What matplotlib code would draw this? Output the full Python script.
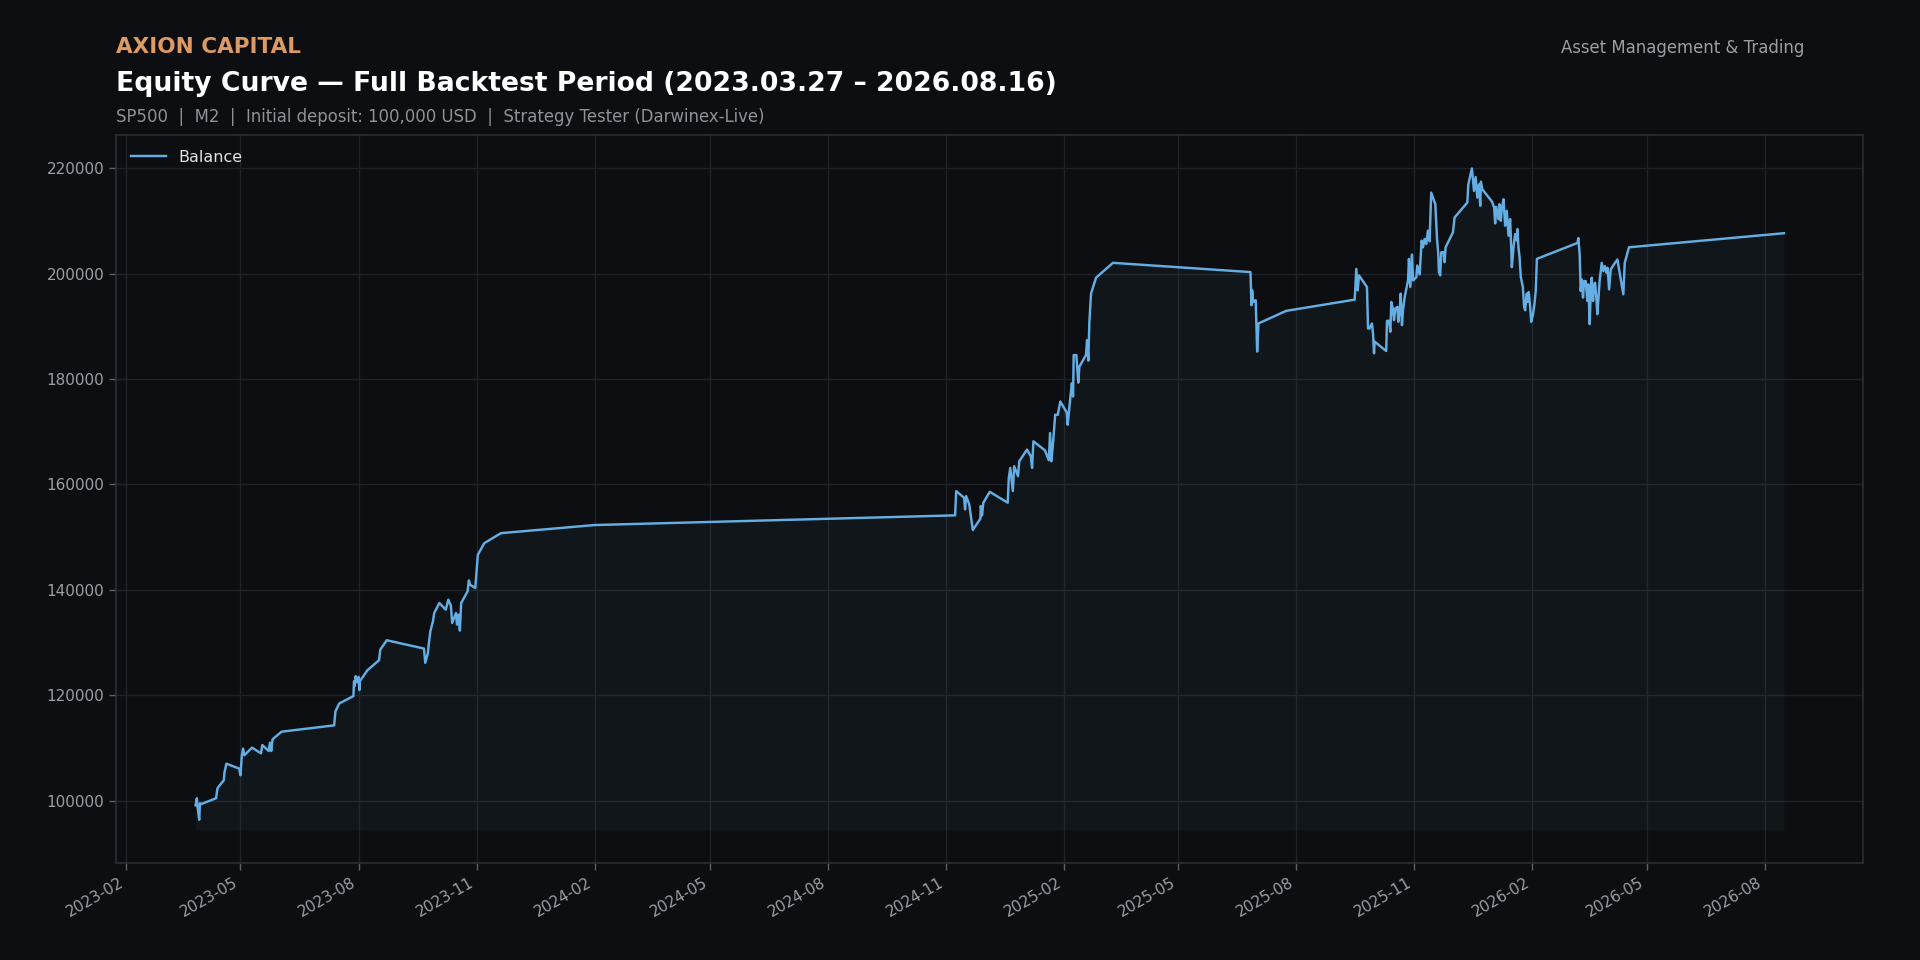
import matplotlib
matplotlib.use("Agg")
import matplotlib.pyplot as plt
import matplotlib.dates as mdates
import pandas as pd

# ---------------- data ----------------
dates = [
    "2023-03-27 00:00", "2023-03-28 00:00", "2023-03-28 12:00", "2023-03-29 06:00", "2023-03-29 20:00",
    "2023-03-30 10:00", "2023-03-31 00:00", "2023-04-12 00:00", "2023-04-13 00:00", "2023-04-14 00:00",
    "2023-04-18 00:00", "2023-04-18 12:00", "2023-04-20 00:00", "2023-04-30 00:00", "2023-05-01 00:00",
    "2023-05-02 00:00", "2023-05-03 00:00", "2023-05-04 00:00", "2023-05-10 00:00", "2023-05-17 00:00",
    "2023-05-18 00:00", "2023-05-23 00:00", "2023-05-24 00:00", "2023-05-25 00:00", "2023-05-26 00:00",
    "2023-06-02 00:00", "2023-07-13 00:00", "2023-07-14 00:00", "2023-07-17 00:00", "2023-07-28 00:00",
    "2023-07-28 12:00", "2023-07-29 00:00", "2023-07-29 18:00", "2023-07-31 00:00", "2023-08-01 00:00",
    "2023-08-01 16:00", "2023-08-02 00:00", "2023-08-08 00:00", "2023-08-17 00:00", "2023-08-18 00:00",
    "2023-08-23 00:00", "2023-09-21 00:00", "2023-09-22 00:00", "2023-09-24 00:00", "2023-09-25 00:00",
    "2023-09-26 00:00", "2023-09-28 00:00", "2023-09-29 00:00", "2023-10-03 00:00", "2023-10-08 00:00",
    "2023-10-10 00:00", "2023-10-12 00:00", "2023-10-13 00:00", "2023-10-16 00:00", "2023-10-16 18:00",
    "2023-10-18 00:00", "2023-10-19 00:00", "2023-10-20 00:00", "2023-10-25 00:00", "2023-10-26 00:00",
    "2023-10-27 00:00", "2023-10-31 00:00", "2023-11-02 00:00", "2023-11-07 00:00", "2023-11-20 00:00",
    "2024-02-01 00:00", "2024-11-08 00:00", "2024-11-08 20:00", "2024-11-15 00:00", "2024-11-15 18:00",
    "2024-11-16 14:00", "2024-11-19 00:00", "2024-11-21 19:00", "2024-11-27 17:00", "2024-11-28 00:00",
    "2024-11-29 00:00", "2024-11-30 00:00", "2024-12-05 00:00", "2024-12-19 00:00", "2024-12-19 20:00",
    "2024-12-21 00:00", "2024-12-23 00:00", "2024-12-24 00:00", "2024-12-27 00:00", "2024-12-28 00:00",
    "2025-01-03 00:00", "2025-01-06 00:00", "2025-01-07 00:00", "2025-01-08 00:00", "2025-01-17 00:00",
    "2025-01-20 00:00", "2025-01-21 00:00", "2025-01-22 00:00", "2025-01-23 00:00", "2025-01-25 00:00",
    "2025-01-27 00:00", "2025-01-29 00:00", "2025-02-03 00:00", "2025-02-03 18:00", "2025-02-06 00:00",
    "2025-02-07 00:00", "2025-02-07 22:00", "2025-02-08 10:00", "2025-02-10 12:00", "2025-02-12 00:00",
    "2025-02-12 20:00", "2025-02-18 00:00", "2025-02-18 20:00", "2025-02-19 20:00", "2025-02-20 14:00",
    "2025-02-21 22:00", "2025-02-25 20:00", "2025-03-11 00:00", "2025-06-26 05:00", "2025-06-27 00:00",
    "2025-06-27 12:00", "2025-06-28 07:00", "2025-06-30 07:00", "2025-07-01 10:00", "2025-07-02 10:00",
    "2025-07-24 00:00", "2025-09-15 10:00", "2025-09-16 17:00", "2025-09-17 19:00", "2025-09-18 19:00",
    "2025-09-25 00:00", "2025-09-25 20:00", "2025-09-27 00:00", "2025-09-28 22:00", "2025-09-29 17:00",
    "2025-09-30 12:00", "2025-10-01 00:00", "2025-10-10 00:00", "2025-10-10 14:00", "2025-10-12 05:00",
    "2025-10-13 05:00", "2025-10-14 00:00", "2025-10-15 07:00", "2025-10-16 02:00", "2025-10-17 02:00",
    "2025-10-18 17:00", "2025-10-19 10:00", "2025-10-20 12:00", "2025-10-21 07:00", "2025-10-22 07:00",
    "2025-10-23 02:00", "2025-10-24 10:00", "2025-10-27 00:00", "2025-10-27 17:00", "2025-10-28 19:00",
    "2025-10-30 02:00", "2025-10-30 22:00", "2025-11-02 12:00", "2025-11-03 05:00", "2025-11-05 02:00",
    "2025-11-06 14:00", "2025-11-07 17:00", "2025-11-08 22:00", "2025-11-10 05:00", "2025-11-11 12:00",
    "2025-11-12 19:00", "2025-11-14 02:00", "2025-11-17 07:00", "2025-11-18 14:00", "2025-11-19 14:00",
    "2025-11-20 02:00", "2025-11-21 02:00", "2025-11-21 22:00", "2025-11-23 17:00", "2025-11-24 12:00",
    "2025-11-25 07:00", "2025-12-01 00:00", "2025-12-02 07:00", "2025-12-12 05:00", "2025-12-13 00:00",
    "2025-12-15 19:00", "2025-12-17 10:00", "2025-12-18 17:00", "2025-12-20 00:00", "2025-12-21 07:00",
    "2025-12-22 07:00", "2025-12-22 19:00", "2025-12-23 22:00", "2025-12-31 10:00", "2026-01-02 03:00",
    "2026-01-02 22:00", "2026-01-03 17:00", "2026-01-05 12:00", "2026-01-06 07:00", "2026-01-07 07:00",
    "2026-01-08 02:00", "2026-01-09 10:00", "2026-01-10 17:00", "2026-01-12 00:00", "2026-01-13 07:00",
    "2026-01-14 14:00", "2026-01-15 10:00", "2026-01-15 22:00", "2026-01-17 05:00", "2026-01-18 12:00",
    "2026-01-19 19:00", "2026-01-20 07:00", "2026-01-21 02:00", "2026-01-21 22:00", "2026-01-22 22:00",
    "2026-01-24 12:00", "2026-01-25 12:00", "2026-01-26 07:00", "2026-01-27 14:00", "2026-01-28 02:00",
    "2026-01-29 02:00", "2026-01-30 05:00", "2026-01-31 00:00", "2026-02-01 07:00", "2026-02-02 14:00",
    "2026-02-03 14:00", "2026-02-04 10:00", "2026-03-08 00:00", "2026-03-08 19:00", "2026-03-09 19:00",
    "2026-03-10 14:00", "2026-03-11 10:00", "2026-03-12 10:00", "2026-03-13 05:00", "2026-03-14 12:00",
    "2026-03-15 19:00", "2026-03-16 14:00", "2026-03-17 14:00", "2026-03-18 10:00", "2026-03-19 05:00",
    "2026-03-20 05:00", "2026-03-21 00:00", "2026-03-21 19:00", "2026-03-22 19:00", "2026-03-23 14:00",
    "2026-03-24 10:00", "2026-03-25 10:00", "2026-03-27 00:00", "2026-03-28 07:00", "2026-03-29 12:00",
    "2026-03-30 19:00", "2026-03-31 14:00", "2026-04-01 17:00", "2026-04-03 00:00", "2026-04-05 10:00",
    "2026-04-08 05:00", "2026-04-12 19:00", "2026-04-13 22:00", "2026-04-17 05:00", "2026-08-16 00:00",
]

balance = [
    99100, 100440, 98990, 97410, 96340,
    99500, 99300, 100440, 102270, 102650,
    103850, 105300, 107000, 106060, 104800,
    108460, 109850, 108590, 110040, 108960,
    110540, 109410, 110990, 109410, 111620,
    113070, 114270, 116920, 118430, 119820,
    122660, 121720, 123610, 122470, 123480,
    120960, 122660, 124750, 126640, 128660,
    130430, 128850, 126140, 127900, 130240,
    132130, 134030, 135600, 137500, 136240,
    138130, 136990, 133710, 135600, 133400,
    135290, 132260, 137500, 139710, 141790,
    140970, 140340, 146650, 148860, 150760,
    152300, 154140, 158740, 157480, 155280,
    157800, 156220, 151370, 153510, 155900,
    154140, 156540, 158610, 156540, 161260,
    163150, 158740, 163470, 161580, 164410,
    166620, 165360, 163150, 168190, 166490,
    164600, 169770, 164410, 166930, 173230,
    173230, 175750, 173670, 171340, 177010,
    179220, 176700, 184570, 184570, 179340,
    182370, 184570, 187410, 183500, 190560,
    196230, 199250, 202080, 200320, 194030,
    196860, 194650, 194970, 185220, 190570,
    192960, 195090, 200940, 196860, 199690,
    197480, 189620, 189620, 190570, 188680,
    184900, 187110, 185340, 191070, 191070,
    188990, 194650, 193210, 191190, 193400,
    193710, 190880, 193080, 196230, 190250,
    193080, 195600, 198740, 202830, 197480,
    203650, 198740, 199370, 201570, 199870,
    206290, 205030, 206610, 205660, 208180,
    206160, 215410, 213210, 206790, 203770,
    200320, 199690, 204090, 204090, 202200,
    205030, 207860, 210690, 213520, 216980,
    220000, 215730, 218370, 214470, 216980,
    212900, 217490, 216040, 213710, 212580,
    209560, 212710, 210380, 213210, 210060,
    212270, 214150, 209120, 211950, 207230,
    210380, 205030, 201260, 205030, 207550,
    206290, 208490, 205030, 203150, 199370,
    197480, 193710, 193080, 196230, 194650,
    196540, 193710, 190880, 192140, 194340,
    196860, 202830, 205850, 206790, 203650,
    196730, 198930, 195470, 198620, 198620,
    194840, 197990, 190440, 196420, 199250,
    194840, 197670, 198300, 195470, 192330,
    195470, 198930, 202080, 200500, 201450,
    200190, 201130, 197040, 200820, 201760,
    202710, 196100, 202080, 205030, 207700,
]

x_tick_months = [2, 5, 8, 11]
series_label = "Balance"
brand = "AXION CAPITAL"
tagline = "Asset Management & Trading"
title = "Equity Curve \u2014 Full Backtest Period (2023.03.27 \u2013 2026.08.16)"
subtitle = "SP500  |  M2  |  Initial deposit: 100,000 USD  |  Strategy Tester (Darwinex-Live)"

# ---------------- style ----------------
FIG_BG = "#0d0e11"
AX_BG = "#0d0e11"
LINE = "#64aee3"
GRID = "#1f2228"
SPINE = "#2b2e34"
TICK_TXT = "#9a9ea6"

plt.rcParams['font.family'] = ['DejaVu Sans']

x = pd.to_datetime(dates)

fig = plt.figure(figsize=(19.2, 9.6), dpi=100, facecolor=FIG_BG)
ax = fig.add_axes([0.0605, 0.101, 0.9100, 0.758])
ax.set_facecolor(AX_BG)

ax.plot(x, balance, color=LINE, lw=1.75, label=series_label, zorder=3)
base = min(balance) * 0.98
ax.fill_between(x, balance, base, color=LINE, alpha=0.05, lw=0, zorder=2)

ax.xaxis.set_major_locator(mdates.MonthLocator(bymonth=x_tick_months))
ax.xaxis.set_major_formatter(mdates.DateFormatter('%Y-%m'))
ax.tick_params(axis='both', colors="#5c6068", labelcolor=TICK_TXT, labelsize=11, length=5, width=1)
plt.setp(ax.get_xticklabels(), rotation=30, ha='right')

ax.grid(True, color=GRID, lw=1, zorder=0)
ax.set_axisbelow(True)
for s in ax.spines.values():
    s.set_color(SPINE)
    s.set_linewidth(1.2)

leg = ax.legend(loc='upper left', frameon=False, fontsize=11.5, handlelength=2.2)
for t in leg.get_texts():
    t.set_color("#e0e2e6")

fig.text(0.0605, 0.9515, brand, color="#dd9a62", fontsize=15.5, fontweight='bold', va='center', ha='left')
fig.text(0.940, 0.9495, tagline, color="#9a9ea6", fontsize=11.9, va='center', ha='right')
fig.text(0.0605, 0.9125, title, color="#ffffff", fontsize=19.2, fontweight='bold', va='center', ha='left')
fig.text(0.0605, 0.8785, subtitle, color="#8e9299", fontsize=11.9, va='center', ha='left')

fig.savefig("out.png", dpi=100, facecolor=FIG_BG)
